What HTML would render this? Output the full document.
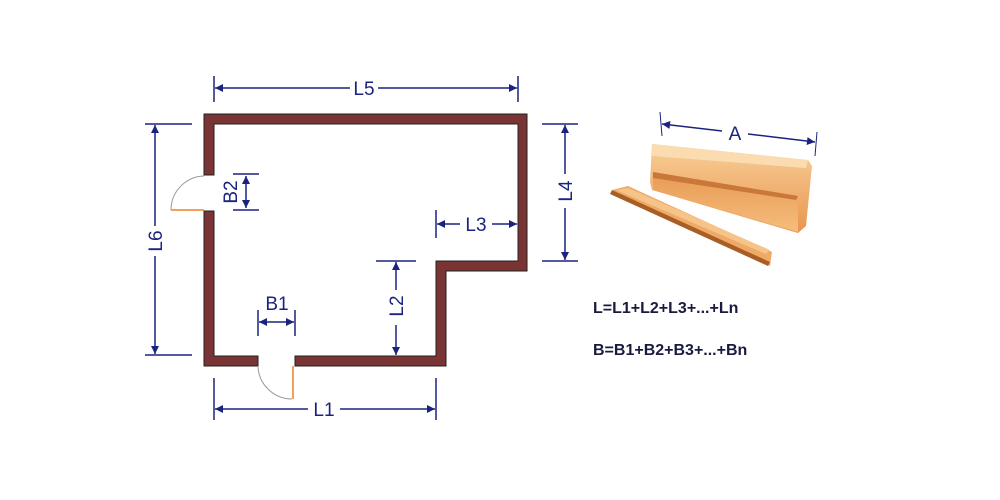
<!DOCTYPE html>
<html><head><style>body{margin:0;background:#fff}svg{display:block}</style></head><body>
<svg width="1000" height="500" viewBox="0 0 1000 500" xmlns="http://www.w3.org/2000/svg">
<defs>
<marker id="a" viewBox="0 0 10 10" refX="10" refY="5" markerWidth="11" markerHeight="8" orient="auto-start-reverse" markerUnits="userSpaceOnUse"><path d="M0,0L10,5L0,10z" fill="#1a237e"/></marker>
<linearGradient id="g1" x1="0" y1="0" x2="0" y2="1"><stop offset="0" stop-color="#f9cf98"/><stop offset="1" stop-color="#e8954e"/></linearGradient>
<linearGradient id="g2" x1="0" y1="0" x2="0" y2="1"><stop offset="0" stop-color="#e89a55"/><stop offset="1" stop-color="#f5bd7c"/></linearGradient>
</defs>
<g fill="none" stroke="#1a237e" stroke-width="1.5">
<line x1="214" y1="76" x2="214" y2="102"/><line x1="518" y1="76" x2="518" y2="102"/>
<line x1="215" y1="88" x2="350" y2="88" marker-start="url(#a)"/><line x1="378" y1="88" x2="517" y2="88" marker-end="url(#a)"/>
<line x1="145" y1="124" x2="192" y2="124"/><line x1="145" y1="355" x2="192" y2="355"/>
<line x1="155" y1="125" x2="155" y2="226" marker-start="url(#a)"/><line x1="155" y1="256" x2="155" y2="354" marker-end="url(#a)"/>
<line x1="233" y1="174" x2="259" y2="174"/><line x1="233" y1="210" x2="259" y2="210"/>
<line x1="246" y1="176" x2="246" y2="208" marker-start="url(#a)" marker-end="url(#a)"/>
<line x1="436" y1="210" x2="436" y2="238"/>
<line x1="437" y1="224" x2="460" y2="224" marker-start="url(#a)"/><line x1="492" y1="224" x2="517" y2="224" marker-end="url(#a)"/>
<line x1="376" y1="261" x2="416" y2="261"/>
<line x1="396" y1="262" x2="396" y2="290" marker-start="url(#a)"/><line x1="396" y1="325" x2="396" y2="355" marker-end="url(#a)"/>
<line x1="258" y1="310" x2="258" y2="336"/><line x1="295" y1="310" x2="295" y2="336"/>
<line x1="259" y1="322" x2="294" y2="322" marker-start="url(#a)" marker-end="url(#a)"/>
<line x1="214" y1="378" x2="214" y2="420"/><line x1="436" y1="378" x2="436" y2="420"/>
<line x1="215" y1="409" x2="308" y2="409" marker-start="url(#a)"/><line x1="340" y1="409" x2="435" y2="409" marker-end="url(#a)"/>
<line x1="542" y1="124" x2="578" y2="124"/><line x1="542" y1="261" x2="578" y2="261"/>
<line x1="565" y1="125" x2="565" y2="174" marker-start="url(#a)"/><line x1="565" y1="208" x2="565" y2="260" marker-end="url(#a)"/>
<line x1="660" y1="112" x2="662" y2="136" stroke-width="1"/><line x1="817" y1="132" x2="815" y2="156" stroke-width="1"/>
<line x1="662" y1="124" x2="722" y2="131" marker-start="url(#a)"/><line x1="748" y1="134" x2="815" y2="142" marker-end="url(#a)"/>
</g>
<path d="M204,175 V114 H527 V271 H446 V366 H295 V356 H436 V261 H518 V124 H214 V175 Z" fill="#7b3434" stroke="#222" stroke-width="1"/>
<path d="M204,211 V366 H258 V356 H214 V211 Z" fill="#7b3434" stroke="#222" stroke-width="1"/>
<path d="M171,210 H204" stroke="#f08020" stroke-width="1.5"/>
<path d="M171,210 A34,34 0 0 1 204,176" fill="none" stroke="#999" stroke-width="1"/>
<path d="M293,366 V399" stroke="#f08020" stroke-width="1.5"/>
<path d="M258,366 A34,34 0 0 0 292,399" fill="none" stroke="#999" stroke-width="1"/>
<g font-family="Liberation Sans, sans-serif" font-size="19" fill="#1a237e" text-anchor="middle">
<text x="364" y="95">L5</text>
<text x="324" y="416">L1</text>
<text x="476" y="231">L3</text>
<text x="277" y="310">B1</text>
<text transform="translate(162,241) rotate(-90)">L6</text>
<text transform="translate(237,192) rotate(-90)">B2</text>
<text transform="translate(403,306) rotate(-90)">L2</text>
<text transform="translate(572,191) rotate(-90)">L4</text>
<text x="735" y="140">A</text>
</g>
<polygon points="652,144 808,160 812,166 806,226 798,233 652,190 650,182" fill="url(#g1)"/>
<polygon points="652,144 808,160 806,168 652,156" fill="#fbdcb0"/>
<polygon points="653,172 798,196 798,232 653,190" fill="url(#g2)"/>
<polygon points="653,172 798,196 796,200 653,178" fill="#c9783a"/>
<polygon points="612,190 628,186 772,252 770,266" fill="#eeaa66"/>
<polygon points="612,190 770,262 768,266 610,194" fill="#a95e25"/>
<polygon points="616,190 628,188 770,250 766,254" fill="#f6c489"/>
<g font-family="Liberation Sans, sans-serif" font-size="16" font-weight="bold" fill="#1a1a40">
<text x="593" y="313">L=L1+L2+L3+...+Ln</text>
<text x="593" y="355">B=B1+B2+B3+...+Bn</text>
</g>
</svg>
</body></html>
